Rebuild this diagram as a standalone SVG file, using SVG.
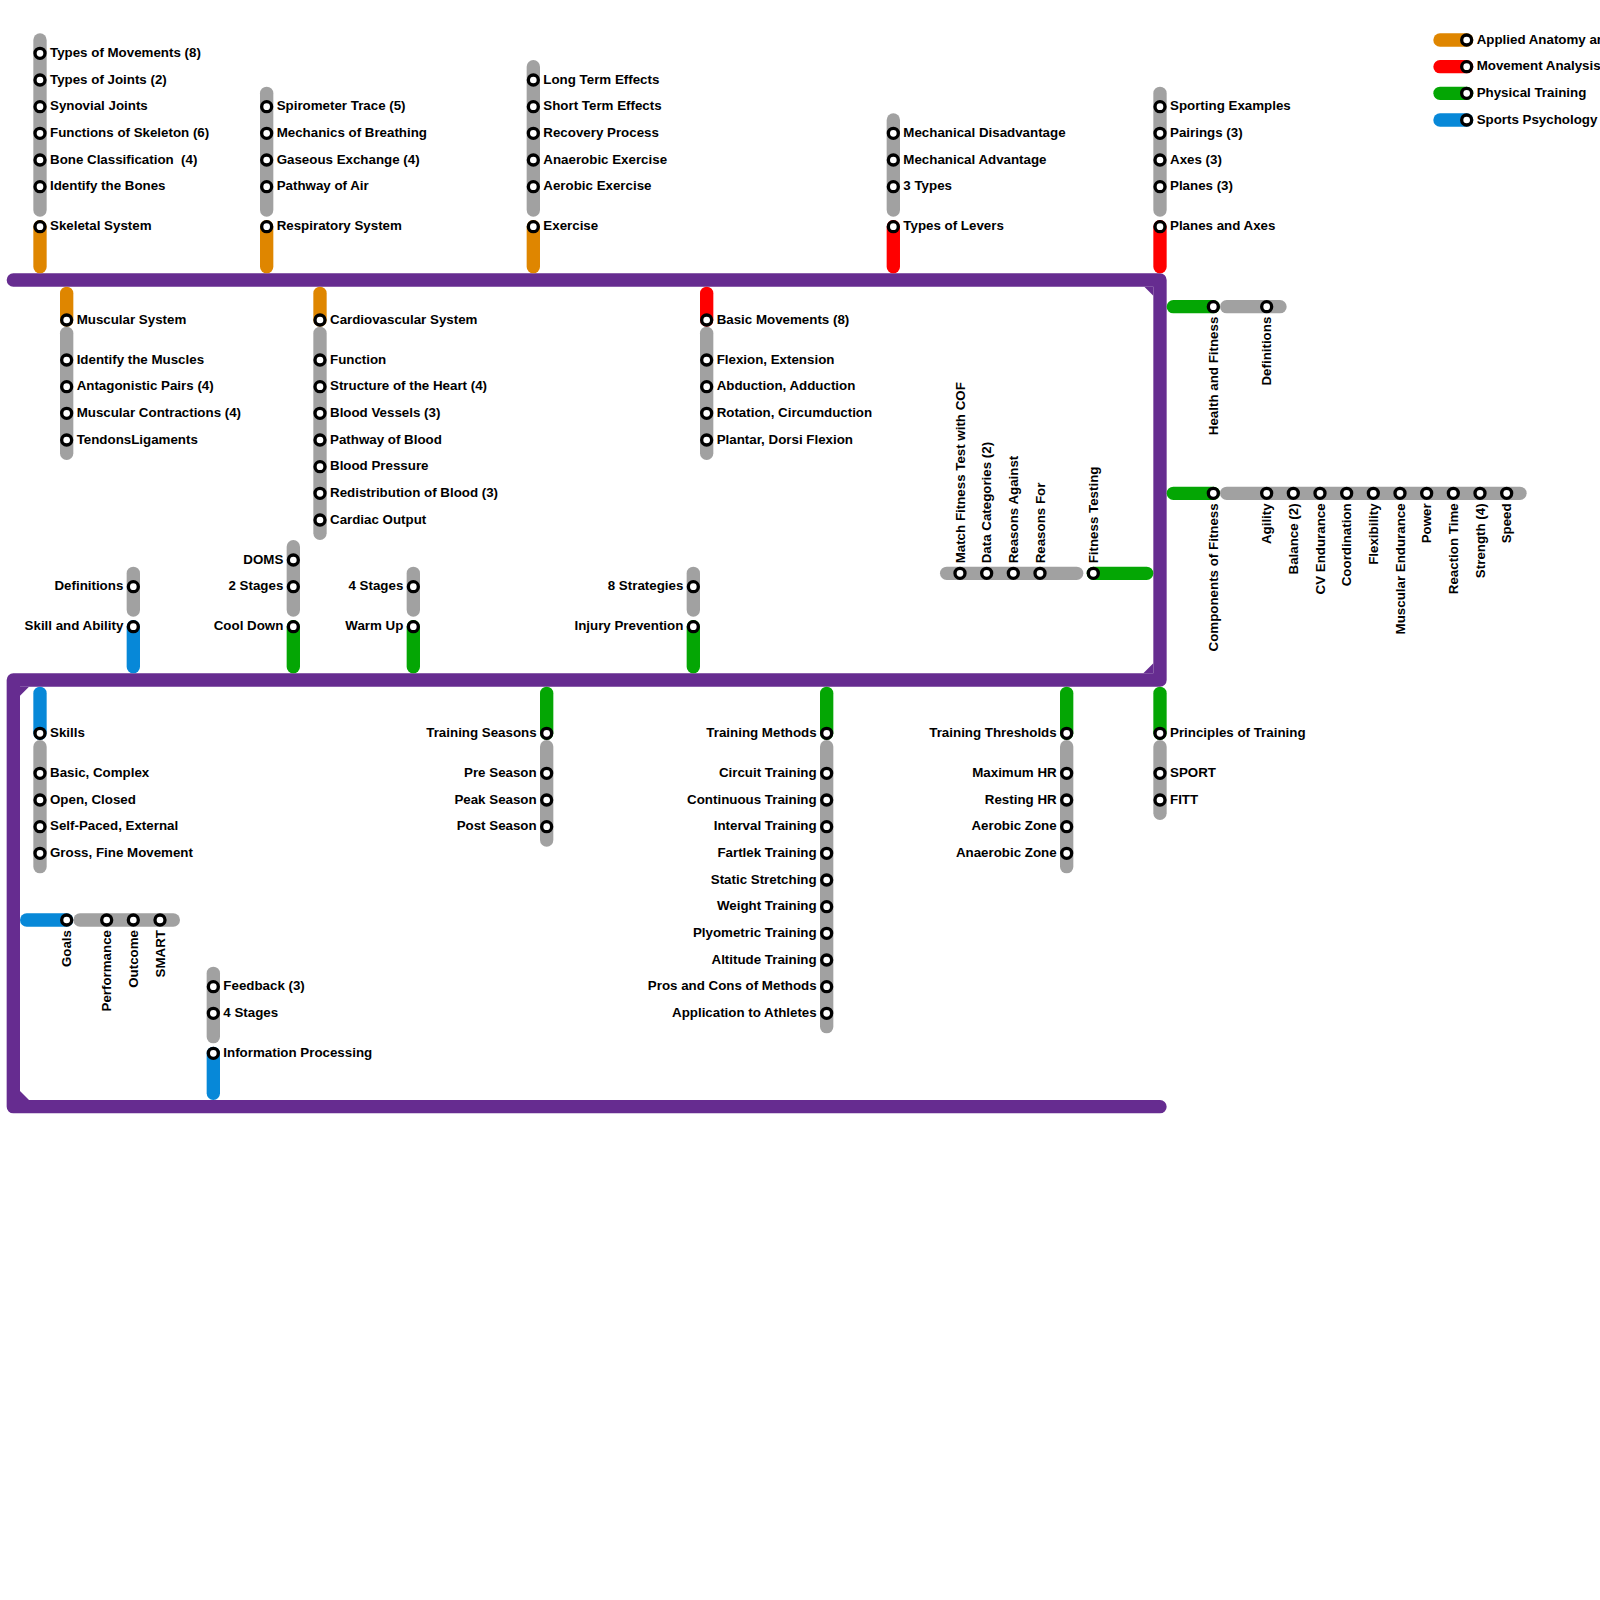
<svg xmlns="http://www.w3.org/2000/svg" width="1600" height="1600" viewBox="0 0 1600 1600">
<style>
.ln{fill:none;stroke-width:13.33;stroke-linecap:round}
.g{stroke:#a1a1a1}.o{stroke:#df8600}.r{stroke:#ff0000}.gr{stroke:#04a604}.b{stroke:#0788d8}
.p{fill:none;stroke:#662c90;stroke-width:13.33;stroke-linecap:round;stroke-linejoin:round}
.ch{fill:#662c90}
circle{fill:#fff;stroke:#000;stroke-width:3.33}
text{font-family:"Liberation Sans",Arial,Helvetica,sans-serif;font-weight:bold;font-size:13.33px;fill:#000}
.e{text-anchor:end}
</style>
<rect width="1600" height="1600" fill="#fff"/>
<g id="connectors">
<path class="p" d="M13.33 280 H1160 V680 H13.33 V1106.67 H1160"/>
<polygon class="ch" points="1144.33,286.67 1153.33,286.67 1153.33,295.67"/>
<polygon class="ch" points="1143.33,673.33 1153.33,673.33 1153.33,663.33"/>
<polygon class="ch" points="20,686.67 29,686.67 20,695.67"/>
<polygon class="ch" points="20,1100 29,1100 20,1091"/>
<line class="ln g" x1="40" y1="40" x2="40" y2="210"/><line class="ln o" x1="40" y1="226.67" x2="40" y2="266.67"/>
<line class="ln g" x1="266.67" y1="93.33" x2="266.67" y2="210"/><line class="ln o" x1="266.67" y1="226.67" x2="266.67" y2="266.67"/>
<line class="ln g" x1="533.33" y1="66.67" x2="533.33" y2="210"/><line class="ln o" x1="533.33" y1="226.67" x2="533.33" y2="266.67"/>
<line class="ln g" x1="893.33" y1="120" x2="893.33" y2="210"/><line class="ln r" x1="893.33" y1="226.67" x2="893.33" y2="266.67"/>
<line class="ln g" x1="1160" y1="93.33" x2="1160" y2="210"/><line class="ln r" x1="1160" y1="226.67" x2="1160" y2="266.67"/>
<line class="ln o" x1="66.67" y1="293.33" x2="66.67" y2="320"/><line class="ln g" x1="66.67" y1="333.33" x2="66.67" y2="453.33"/>
<line class="ln o" x1="320" y1="293.33" x2="320" y2="320"/><line class="ln g" x1="320" y1="333.33" x2="320" y2="533.33"/>
<line class="ln r" x1="706.67" y1="293.33" x2="706.67" y2="320"/><line class="ln g" x1="706.67" y1="333.33" x2="706.67" y2="453.33"/>
<line class="ln g" x1="133.33" y1="573.33" x2="133.33" y2="610"/><line class="ln b" x1="133.33" y1="626.67" x2="133.33" y2="666.67"/>
<line class="ln g" x1="293.33" y1="546.67" x2="293.33" y2="610"/><line class="ln gr" x1="293.33" y1="626.67" x2="293.33" y2="666.67"/>
<line class="ln g" x1="413.33" y1="573.33" x2="413.33" y2="610"/><line class="ln gr" x1="413.33" y1="626.67" x2="413.33" y2="666.67"/>
<line class="ln g" x1="693.33" y1="573.33" x2="693.33" y2="610"/><line class="ln gr" x1="693.33" y1="626.67" x2="693.33" y2="666.67"/>
<line class="ln g" x1="946.67" y1="573.33" x2="1076.67" y2="573.33"/><line class="ln gr" x1="1093.33" y1="573.33" x2="1146.67" y2="573.33"/>
<line class="ln gr" x1="1173.33" y1="306.67" x2="1213.33" y2="306.67"/><line class="ln g" x1="1226.67" y1="306.67" x2="1280" y2="306.67"/>
<line class="ln gr" x1="1173.33" y1="493.33" x2="1213.33" y2="493.33"/><line class="ln g" x1="1226.67" y1="493.33" x2="1520" y2="493.33"/>
<line class="ln b" x1="40" y1="693.33" x2="40" y2="733.33"/><line class="ln g" x1="40" y1="746.67" x2="40" y2="866.67"/>
<line class="ln gr" x1="546.67" y1="693.33" x2="546.67" y2="733.33"/><line class="ln g" x1="546.67" y1="746.67" x2="546.67" y2="840"/>
<line class="ln gr" x1="826.67" y1="693.33" x2="826.67" y2="733.33"/><line class="ln g" x1="826.67" y1="746.67" x2="826.67" y2="1026.67"/>
<line class="ln gr" x1="1066.67" y1="693.33" x2="1066.67" y2="733.33"/><line class="ln g" x1="1066.67" y1="746.67" x2="1066.67" y2="866.67"/>
<line class="ln gr" x1="1160" y1="693.33" x2="1160" y2="733.33"/><line class="ln g" x1="1160" y1="746.67" x2="1160" y2="813.33"/>
<line class="ln b" x1="26.67" y1="920" x2="66.67" y2="920"/><line class="ln g" x1="80" y1="920" x2="173.33" y2="920"/>
<line class="ln g" x1="213.33" y1="973.33" x2="213.33" y2="1036.67"/><line class="ln b" x1="213.33" y1="1053.33" x2="213.33" y2="1093.33"/>
<line class="ln o" x1="1440" y1="40" x2="1466.67" y2="40"/>
<line class="ln r" x1="1440" y1="66.67" x2="1466.67" y2="66.67"/>
<line class="ln gr" x1="1440" y1="93.33" x2="1466.67" y2="93.33"/>
<line class="ln b" x1="1440" y1="120" x2="1466.67" y2="120"/>
</g>
<g id="skeletal">
<g id="n-types-movements"><circle cx="40" cy="53.33" r="5"/><text x="50" y="56.83">Types of Movements (8)</text></g>
<g id="n-types-joints"><circle cx="40" cy="80" r="5"/><text x="50" y="83.5">Types of Joints (2)</text></g>
<g id="n-synovial"><circle cx="40" cy="106.67" r="5"/><text x="50" y="110.17">Synovial Joints</text></g>
<g id="n-functions-skeleton"><circle cx="40" cy="133.33" r="5"/><text x="50" y="136.83">Functions of Skeleton (6)</text></g>
<g id="n-bone-class"><circle cx="40" cy="160" r="5"/><text x="50" y="163.5" xml:space="preserve">Bone Classification  (4)</text></g>
<g id="n-identify-bones"><circle cx="40" cy="186.67" r="5"/><text x="50" y="190.17">Identify the Bones</text></g>
<g id="n-skeletal-system"><circle cx="40" cy="226.67" r="5"/><text x="50" y="230.17">Skeletal System</text></g>
</g>
<g id="respiratory">
<g id="n-spirometer"><circle cx="266.67" cy="106.67" r="5"/><text x="276.67" y="110.17">Spirometer Trace (5)</text></g>
<g id="n-mechanics-breathing"><circle cx="266.67" cy="133.33" r="5"/><text x="276.67" y="136.83">Mechanics of Breathing</text></g>
<g id="n-gaseous"><circle cx="266.67" cy="160" r="5"/><text x="276.67" y="163.5">Gaseous Exchange (4)</text></g>
<g id="n-pathway-air"><circle cx="266.67" cy="186.67" r="5"/><text x="276.67" y="190.17">Pathway of Air</text></g>
<g id="n-respiratory-system"><circle cx="266.67" cy="226.67" r="5"/><text x="276.67" y="230.17">Respiratory System</text></g>
</g>
<g id="exercise">
<g id="n-long-term"><circle cx="533.33" cy="80" r="5"/><text x="543.33" y="83.5">Long Term Effects</text></g>
<g id="n-short-term"><circle cx="533.33" cy="106.67" r="5"/><text x="543.33" y="110.17">Short Term Effects</text></g>
<g id="n-recovery"><circle cx="533.33" cy="133.33" r="5"/><text x="543.33" y="136.83">Recovery Process</text></g>
<g id="n-anaerobic-ex"><circle cx="533.33" cy="160" r="5"/><text x="543.33" y="163.5">Anaerobic Exercise</text></g>
<g id="n-aerobic-ex"><circle cx="533.33" cy="186.67" r="5"/><text x="543.33" y="190.17">Aerobic Exercise</text></g>
<g id="n-exercise"><circle cx="533.33" cy="226.67" r="5"/><text x="543.33" y="230.17">Exercise</text></g>
</g>
<g id="levers">
<g id="n-mech-dis"><circle cx="893.33" cy="133.33" r="5"/><text x="903.33" y="136.83">Mechanical Disadvantage</text></g>
<g id="n-mech-adv"><circle cx="893.33" cy="160" r="5"/><text x="903.33" y="163.5">Mechanical Advantage</text></g>
<g id="n-3-types"><circle cx="893.33" cy="186.67" r="5"/><text x="903.33" y="190.17">3 Types</text></g>
<g id="n-types-levers"><circle cx="893.33" cy="226.67" r="5"/><text x="903.33" y="230.17">Types of Levers</text></g>
</g>
<g id="planes">
<g id="n-sporting-examples"><circle cx="1160" cy="106.67" r="5"/><text x="1170" y="110.17">Sporting Examples</text></g>
<g id="n-pairings"><circle cx="1160" cy="133.33" r="5"/><text x="1170" y="136.83">Pairings (3)</text></g>
<g id="n-axes"><circle cx="1160" cy="160" r="5"/><text x="1170" y="163.5">Axes (3)</text></g>
<g id="n-planes"><circle cx="1160" cy="186.67" r="5"/><text x="1170" y="190.17">Planes (3)</text></g>
<g id="n-planes-axes"><circle cx="1160" cy="226.67" r="5"/><text x="1170" y="230.17">Planes and Axes</text></g>
</g>
<g id="muscular">
<g id="n-muscular-system"><circle cx="66.67" cy="320" r="5"/><text x="76.67" y="323.5">Muscular System</text></g>
<g id="n-identify-muscles"><circle cx="66.67" cy="360" r="5"/><text x="76.67" y="363.5">Identify the Muscles</text></g>
<g id="n-antagonistic"><circle cx="66.67" cy="386.67" r="5"/><text x="76.67" y="390.17">Antagonistic Pairs (4)</text></g>
<g id="n-contractions"><circle cx="66.67" cy="413.33" r="5"/><text x="76.67" y="416.83">Muscular Contractions (4)</text></g>
<g id="n-tendons"><circle cx="66.67" cy="440" r="5"/><text x="76.67" y="443.5">TendonsLigaments</text></g>
</g>
<g id="cardio">
<g id="n-cardio-system"><circle cx="320" cy="320" r="5"/><text x="330" y="323.5">Cardiovascular System</text></g>
<g id="n-function"><circle cx="320" cy="360" r="5"/><text x="330" y="363.5">Function</text></g>
<g id="n-heart"><circle cx="320" cy="386.67" r="5"/><text x="330" y="390.17">Structure of the Heart (4)</text></g>
<g id="n-vessels"><circle cx="320" cy="413.33" r="5"/><text x="330" y="416.83">Blood Vessels (3)</text></g>
<g id="n-pathway-blood"><circle cx="320" cy="440" r="5"/><text x="330" y="443.5">Pathway of Blood</text></g>
<g id="n-pressure"><circle cx="320" cy="466.67" r="5"/><text x="330" y="470.17">Blood Pressure</text></g>
<g id="n-redistribution"><circle cx="320" cy="493.33" r="5"/><text x="330" y="496.83">Redistribution of Blood (3)</text></g>
<g id="n-cardiac-output"><circle cx="320" cy="520" r="5"/><text x="330" y="523.5">Cardiac Output</text></g>
</g>
<g id="movements">
<g id="n-basic-movements"><circle cx="706.67" cy="320" r="5"/><text x="716.67" y="323.5">Basic Movements (8)</text></g>
<g id="n-flexion"><circle cx="706.67" cy="360" r="5"/><text x="716.67" y="363.5">Flexion, Extension</text></g>
<g id="n-abduction"><circle cx="706.67" cy="386.67" r="5"/><text x="716.67" y="390.17">Abduction, Adduction</text></g>
<g id="n-rotation"><circle cx="706.67" cy="413.33" r="5"/><text x="716.67" y="416.83">Rotation, Circumduction</text></g>
<g id="n-plantar"><circle cx="706.67" cy="440" r="5"/><text x="716.67" y="443.5">Plantar, Dorsi Flexion</text></g>
</g>
<g id="skill">
<g id="n-definitions-skill"><circle cx="133.33" cy="586.67" r="5"/><text class="e" x="123.33" y="590.17">Definitions</text></g>
<g id="n-skill-ability"><circle cx="133.33" cy="626.67" r="5"/><text class="e" x="123.33" y="630.17">Skill and Ability</text></g>
</g>
<g id="cooldown">
<g id="n-doms"><circle cx="293.33" cy="560" r="5"/><text class="e" x="283.33" y="563.5">DOMS</text></g>
<g id="n-2-stages"><circle cx="293.33" cy="586.67" r="5"/><text class="e" x="283.33" y="590.17">2 Stages</text></g>
<g id="n-cool-down"><circle cx="293.33" cy="626.67" r="5"/><text class="e" x="283.33" y="630.17">Cool Down</text></g>
</g>
<g id="warmup">
<g id="n-4-stages-wu"><circle cx="413.33" cy="586.67" r="5"/><text class="e" x="403.33" y="590.17">4 Stages</text></g>
<g id="n-warm-up"><circle cx="413.33" cy="626.67" r="5"/><text class="e" x="403.33" y="630.17">Warm Up</text></g>
</g>
<g id="injury">
<g id="n-8-strategies"><circle cx="693.33" cy="586.67" r="5"/><text class="e" x="683.33" y="590.17">8 Strategies</text></g>
<g id="n-injury"><circle cx="693.33" cy="626.67" r="5"/><text class="e" x="683.33" y="630.17">Injury Prevention</text></g>
</g>
<g id="fitness-testing">
<g id="n-match"><circle cx="960" cy="573.33" r="5"/><text transform="translate(964.5,563.33) rotate(-90)">Match Fitness Test with COF</text></g>
<g id="n-data"><circle cx="986.67" cy="573.33" r="5"/><text transform="translate(991.17,563.33) rotate(-90)">Data Categories (2)</text></g>
<g id="n-against"><circle cx="1013.33" cy="573.33" r="5"/><text transform="translate(1017.83,563.33) rotate(-90)">Reasons Against</text></g>
<g id="n-for"><circle cx="1040" cy="573.33" r="5"/><text transform="translate(1044.5,563.33) rotate(-90)">Reasons For</text></g>
<g id="n-fitness-testing"><circle cx="1093.33" cy="573.33" r="5"/><text transform="translate(1097.83,563.33) rotate(-90)">Fitness Testing</text></g>
</g>
<g id="health">
<g id="n-health-fitness"><circle cx="1213.33" cy="306.67" r="5"/><text class="e" transform="translate(1217.83,316.67) rotate(-90)">Health and Fitness</text></g>
<g id="n-definitions-hf"><circle cx="1266.67" cy="306.67" r="5"/><text class="e" transform="translate(1271.17,316.67) rotate(-90)">Definitions</text></g>
</g>
<g id="components">
<g id="n-components"><circle cx="1213.33" cy="493.33" r="5"/><text class="e" transform="translate(1217.83,503.33) rotate(-90)">Components of Fitness</text></g>
<g id="n-agility"><circle cx="1266.67" cy="493.33" r="5"/><text class="e" transform="translate(1271.17,503.33) rotate(-90)">Agility</text></g>
<g id="n-balance"><circle cx="1293.33" cy="493.33" r="5"/><text class="e" transform="translate(1297.83,503.33) rotate(-90)">Balance (2)</text></g>
<g id="n-cv"><circle cx="1320" cy="493.33" r="5"/><text class="e" transform="translate(1324.5,503.33) rotate(-90)">CV Endurance</text></g>
<g id="n-coordination"><circle cx="1346.67" cy="493.33" r="5"/><text class="e" transform="translate(1351.17,503.33) rotate(-90)">Coordination</text></g>
<g id="n-flexibility"><circle cx="1373.33" cy="493.33" r="5"/><text class="e" transform="translate(1377.83,503.33) rotate(-90)">Flexibility</text></g>
<g id="n-musc-endurance"><circle cx="1400" cy="493.33" r="5"/><text class="e" transform="translate(1404.5,503.33) rotate(-90)">Muscular Endurance</text></g>
<g id="n-power"><circle cx="1426.67" cy="493.33" r="5"/><text class="e" transform="translate(1431.17,503.33) rotate(-90)">Power</text></g>
<g id="n-reaction"><circle cx="1453.33" cy="493.33" r="5"/><text class="e" transform="translate(1457.83,503.33) rotate(-90)">Reaction Time</text></g>
<g id="n-strength"><circle cx="1480" cy="493.33" r="5"/><text class="e" transform="translate(1484.5,503.33) rotate(-90)">Strength (4)</text></g>
<g id="n-speed"><circle cx="1506.67" cy="493.33" r="5"/><text class="e" transform="translate(1511.17,503.33) rotate(-90)">Speed</text></g>
</g>
<g id="skills">
<g id="n-skills"><circle cx="40" cy="733.33" r="5"/><text x="50" y="736.83">Skills</text></g>
<g id="n-basic-complex"><circle cx="40" cy="773.33" r="5"/><text x="50" y="776.83">Basic, Complex</text></g>
<g id="n-open-closed"><circle cx="40" cy="800" r="5"/><text x="50" y="803.5">Open, Closed</text></g>
<g id="n-self-paced"><circle cx="40" cy="826.67" r="5"/><text x="50" y="830.17">Self-Paced, External</text></g>
<g id="n-gross-fine"><circle cx="40" cy="853.33" r="5"/><text x="50" y="856.83">Gross, Fine Movement</text></g>
</g>
<g id="seasons">
<g id="n-training-seasons"><circle cx="546.67" cy="733.33" r="5"/><text class="e" x="536.67" y="736.83">Training Seasons</text></g>
<g id="n-pre"><circle cx="546.67" cy="773.33" r="5"/><text class="e" x="536.67" y="776.83">Pre Season</text></g>
<g id="n-peak"><circle cx="546.67" cy="800" r="5"/><text class="e" x="536.67" y="803.5">Peak Season</text></g>
<g id="n-post"><circle cx="546.67" cy="826.67" r="5"/><text class="e" x="536.67" y="830.17">Post Season</text></g>
</g>
<g id="methods">
<g id="n-training-methods"><circle cx="826.67" cy="733.33" r="5"/><text class="e" x="816.67" y="736.83">Training Methods</text></g>
<g id="n-circuit"><circle cx="826.67" cy="773.33" r="5"/><text class="e" x="816.67" y="776.83">Circuit Training</text></g>
<g id="n-continuous"><circle cx="826.67" cy="800" r="5"/><text class="e" x="816.67" y="803.5">Continuous Training</text></g>
<g id="n-interval"><circle cx="826.67" cy="826.67" r="5"/><text class="e" x="816.67" y="830.17">Interval Training</text></g>
<g id="n-fartlek"><circle cx="826.67" cy="853.33" r="5"/><text class="e" x="816.67" y="856.83">Fartlek Training</text></g>
<g id="n-static"><circle cx="826.67" cy="880" r="5"/><text class="e" x="816.67" y="883.5">Static Stretching</text></g>
<g id="n-weight"><circle cx="826.67" cy="906.67" r="5"/><text class="e" x="816.67" y="910.17">Weight Training</text></g>
<g id="n-plyometric"><circle cx="826.67" cy="933.33" r="5"/><text class="e" x="816.67" y="936.83">Plyometric Training</text></g>
<g id="n-altitude"><circle cx="826.67" cy="960" r="5"/><text class="e" x="816.67" y="963.5">Altitude Training</text></g>
<g id="n-pros-cons"><circle cx="826.67" cy="986.67" r="5"/><text class="e" x="816.67" y="990.17">Pros and Cons of Methods</text></g>
<g id="n-application"><circle cx="826.67" cy="1013.33" r="5"/><text class="e" x="816.67" y="1016.83">Application to Athletes</text></g>
</g>
<g id="thresholds">
<g id="n-thresholds"><circle cx="1066.67" cy="733.33" r="5"/><text class="e" x="1056.67" y="736.83">Training Thresholds</text></g>
<g id="n-max-hr"><circle cx="1066.67" cy="773.33" r="5"/><text class="e" x="1056.67" y="776.83">Maximum HR</text></g>
<g id="n-resting-hr"><circle cx="1066.67" cy="800" r="5"/><text class="e" x="1056.67" y="803.5">Resting HR</text></g>
<g id="n-aerobic-zone"><circle cx="1066.67" cy="826.67" r="5"/><text class="e" x="1056.67" y="830.17">Aerobic Zone</text></g>
<g id="n-anaerobic-zone"><circle cx="1066.67" cy="853.33" r="5"/><text class="e" x="1056.67" y="856.83">Anaerobic Zone</text></g>
</g>
<g id="principles">
<g id="n-principles"><circle cx="1160" cy="733.33" r="5"/><text x="1170" y="736.83">Principles of Training</text></g>
<g id="n-sport"><circle cx="1160" cy="773.33" r="5"/><text x="1170" y="776.83">SPORT</text></g>
<g id="n-fitt"><circle cx="1160" cy="800" r="5"/><text x="1170" y="803.5">FITT</text></g>
</g>
<g id="goals">
<g id="n-goals"><circle cx="66.67" cy="920" r="5"/><text class="e" transform="translate(71.17,930) rotate(-90)">Goals</text></g>
<g id="n-performance"><circle cx="106.67" cy="920" r="5"/><text class="e" transform="translate(111.17,930) rotate(-90)">Performance</text></g>
<g id="n-outcome"><circle cx="133.33" cy="920" r="5"/><text class="e" transform="translate(137.83,930) rotate(-90)">Outcome</text></g>
<g id="n-smart"><circle cx="160" cy="920" r="5"/><text class="e" transform="translate(164.5,930) rotate(-90)">SMART</text></g>
</g>
<g id="info-processing">
<g id="n-feedback"><circle cx="213.33" cy="986.67" r="5"/><text x="223.33" y="990.17">Feedback (3)</text></g>
<g id="n-4-stages-ip"><circle cx="213.33" cy="1013.33" r="5"/><text x="223.33" y="1016.83">4 Stages</text></g>
<g id="n-info"><circle cx="213.33" cy="1053.33" r="5"/><text x="223.33" y="1056.83">Information Processing</text></g>
</g>
<g id="legend">
<g id="lg-anatomy"><circle cx="1466.67" cy="40" r="5"/><text x="1476.67" y="43.5">Applied Anatomy and Physiology</text></g>
<g id="lg-movement"><circle cx="1466.67" cy="66.67" r="5"/><text x="1476.67" y="70.17">Movement Analysis</text></g>
<g id="lg-training"><circle cx="1466.67" cy="93.33" r="5"/><text x="1476.67" y="96.83">Physical Training</text></g>
<g id="lg-psych"><circle cx="1466.67" cy="120" r="5"/><text x="1476.67" y="123.5">Sports Psychology</text></g>
</g>
</svg>
